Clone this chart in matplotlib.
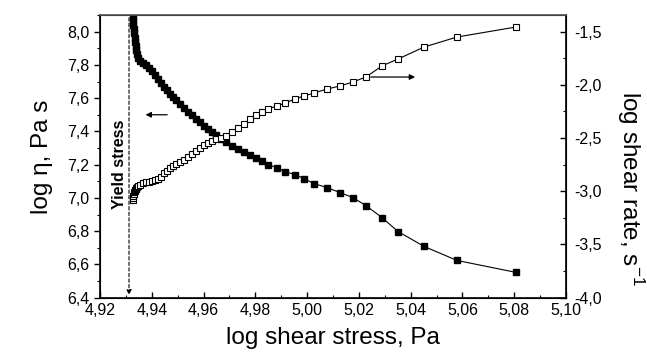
import matplotlib.pyplot as plt
from matplotlib.ticker import MultipleLocator, FuncFormatter

plt.rcParams['font.family'] = ['Liberation Sans', 'DejaVu Sans']
plt.rcParams['mathtext.fontset'] = 'custom'
plt.rcParams['mathtext.rm'] = 'Liberation Sans'

# log shear stress, Pa (shared by both series)
stress = [4.9327, 4.9327, 4.9327, 4.9331, 4.9331, 4.9335, 4.9335, 4.9339, 4.9339, 4.9343,
          4.9347, 4.9355, 4.9366, 4.9378, 4.9389, 4.9401, 4.9412, 4.9424, 4.9436, 4.9447,
          4.9459, 4.9470, 4.9482, 4.9494, 4.9509, 4.9524, 4.9540, 4.9555, 4.9571, 4.9586,
          4.9602, 4.9617, 4.9633, 4.9648, 4.9667, 4.9687, 4.9710, 4.9733, 4.9756, 4.9779,
          4.9803, 4.9826, 4.9849, 4.9884, 4.9915, 4.9953, 4.9988, 5.0027, 5.0077, 5.0127,
          5.0177, 5.0227, 5.0289, 5.0351, 5.0452, 5.0579, 5.0807]

# log viscosity, Pa s (filled squares, left axis)
log_eta = [8.088, 8.064, 8.040, 8.016, 7.992, 7.962, 7.938, 7.914, 7.890, 7.866,
           7.842, 7.824, 7.812, 7.800, 7.782, 7.765, 7.741, 7.717, 7.693, 7.669,
           7.651, 7.627, 7.609, 7.591, 7.567, 7.543, 7.519, 7.501, 7.477, 7.459,
           7.435, 7.417, 7.399, 7.381, 7.357, 7.337, 7.314, 7.296, 7.278, 7.260,
           7.242, 7.224, 7.200, 7.182, 7.158, 7.140, 7.116, 7.086, 7.062, 7.032,
           7.002, 6.954, 6.882, 6.798, 6.708, 6.624, 6.552]

# log shear rate, 1/s (open squares, right axis)
log_rate = [-3.082, -3.063, -3.044, -3.026, -3.007, -2.997, -2.988, -2.978, -2.969, -2.960,
            -2.950, -2.941, -2.922, -2.913, -2.913, -2.903, -2.894, -2.884, -2.866, -2.828,
            -2.809, -2.781, -2.762, -2.743, -2.725, -2.706, -2.677, -2.649, -2.621, -2.593,
            -2.565, -2.546, -2.527, -2.508, -2.499, -2.480, -2.443, -2.405, -2.367, -2.320,
            -2.283, -2.255, -2.226, -2.198, -2.170, -2.133, -2.104, -2.076, -2.039, -2.010,
            -1.973, -1.926, -1.822, -1.757, -1.644, -1.550, -1.456]

yield_stress = 4.9312


def comma(fmt):
    return FuncFormatter(lambda v, pos: format(v, fmt).replace('.', ','))


fig = plt.figure(figsize=(6.47, 3.56), dpi=100)
ax = fig.add_axes([0.1546, 0.1638, 0.7202, 0.7941])
ax2 = ax.twinx()

ax.plot(stress, log_eta, color='black', lw=0.8, marker='s', ms=5,
        mfc='black', mec='black')
ax2.plot(stress, log_rate, color='black', lw=0.8, marker='s', ms=5,
         mfc='white', mec='black', mew=0.8)

ax.set_xlim(4.92, 5.10)
ax.set_ylim(6.4, 8.1)
ax2.set_ylim(-4.0, -1.343)

ax.xaxis.set_major_locator(MultipleLocator(0.02))
ax.xaxis.set_minor_locator(MultipleLocator(0.01))
ax.yaxis.set_major_locator(MultipleLocator(0.2))
ax.yaxis.set_minor_locator(MultipleLocator(0.1))
ax2.yaxis.set_major_locator(MultipleLocator(0.5))
ax2.yaxis.set_minor_locator(MultipleLocator(0.25))
ax.xaxis.set_major_formatter(comma('.2f'))
ax.yaxis.set_major_formatter(comma('.1f'))
ax2.yaxis.set_major_formatter(comma('.1f'))

ax.tick_params(axis='x', which='both', direction='in', labelsize=11.5, pad=4)
ax.tick_params(axis='x', which='major', length=4, width=1)
ax.tick_params(axis='x', which='minor', length=2.5, width=0.8)
ax.tick_params(axis='y', which='both', direction='out', labelsize=11.5)
ax.tick_params(axis='y', which='major', length=4, width=1)
ax.tick_params(axis='y', which='minor', length=2.5, width=0.8)
ax2.tick_params(axis='y', which='both', direction='in', labelsize=11.5, pad=6)
ax2.tick_params(axis='y', which='major', length=4, width=1)
ax2.tick_params(axis='y', which='minor', length=2.5, width=0.8)

for side in ['left', 'bottom', 'right']:
    ax2.spines[side].set_linewidth(1.2)
ax2.spines['top'].set_linewidth(1.2)
ax2.spines['top'].set_color('#555555')

ax.set_xlabel('log shear stress, Pa', fontsize=17.5, labelpad=6)
ax.set_ylabel('log η, Pa s', fontsize=17.5, labelpad=10)
# right label sits a bit lower than the axis centre in the original
fig.text(0.974, 0.47, 'log shear rate, s$^{-1}$', fontsize=17.5, rotation=270,
         ha='center', va='center')

# yield stress marker
ax.annotate('', xy=(yield_stress, 6.4), xytext=(yield_stress, 8.1),
            arrowprops=dict(arrowstyle='-|>', color='black', lw=0.8,
                            linestyle=(0, (3, 2)), mutation_scale=7))
ax.text(yield_stress - 0.0038, 7.2, 'Yield stress', rotation=90, ha='center',
        va='center', fontsize=11.5, fontweight='bold')

# arrows pointing to each axis
ax.annotate('', xy=(4.9365, 7.5), xytext=(4.9470, 7.5),
            arrowprops=dict(arrowstyle='-|>', color='black', lw=0.9, mutation_scale=8))
ax2.annotate('', xy=(5.0428, -1.926), xytext=(5.0235, -1.926),
             arrowprops=dict(arrowstyle='-|>', color='black', lw=0.9, mutation_scale=8))

plt.savefig('out.png', dpi=100)
